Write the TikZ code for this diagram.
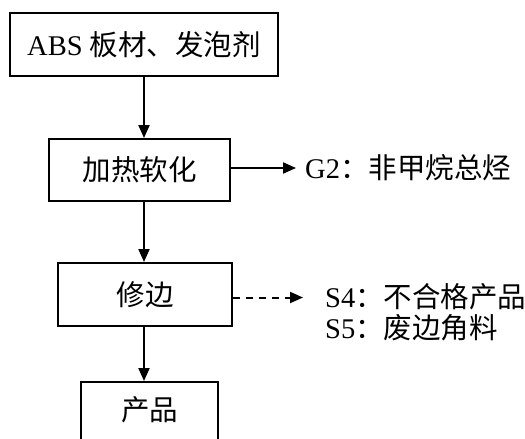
\documentclass[tikz,border=0pt]{standalone}
\usepackage{fontspec}
\setmainfont{Liberation Serif}
\newfontfamily\cjk{Noto Sans CJK SC}
\usetikzlibrary{arrows.meta}

\begin{document}
\begin{tikzpicture}[x=1pt,y=-1pt,
      box/.style={draw,line width=2pt,inner sep=0pt},
      flow/.style={line width=2pt,-{Triangle[length=13pt,width=11pt]}},
      every node/.style={font=\fontsize{28.5}{34}\selectfont}]
      \useasboundingbox (0,0) rectangle (525,439);
      % process boxes
      \node[box,minimum width=268pt,minimum height=63pt] (raw) at (144,44.5) {ABS {\cjk 板材、发泡剂}};
      \node[box,minimum width=181pt,minimum height=62pt] (heat) at (139.5,170) {\cjk 加热软化};
      \node[box,minimum width=174pt,minimum height=63pt] (trim) at (145,294.5) {\cjk 修边};
      \node[box,minimum width=137pt,minimum height=63pt] (prod) at (149.5,413.5) {};
      \node (prodtxt) at (149.5,410) {\cjk 产品};
      % outputs
      \node[anchor=west,inner sep=0pt] (gas) at (305,168) {G2{\cjk ：非甲烷总烃}};
      \node[anchor=west,inner sep=0pt] (s4) at (325,297) {S4{\cjk ：不合格产品}};
      \node[anchor=west,inner sep=0pt] (s5) at (325,328) {S5{\cjk ：废边角料}};
      \coordinate (gasend) at (296,168);
      \coordinate (wasteend) at (303,297.5);
      % main flow
      \draw[flow] (raw.south) -- (raw.south |- heat.north);
      \draw[flow] (raw.south |- heat.south) -- (raw.south |- trim.north);
      \draw[flow] (raw.south |- trim.south) -- (raw.south |- prod.north);
      % side flows
      \draw[flow] (heat.east |- gasend) -- (gasend);
      \draw[flow,dash pattern=on 7pt off 6pt] (trim.east |- wasteend) -- (wasteend);
\end{tikzpicture}
\end{document}
